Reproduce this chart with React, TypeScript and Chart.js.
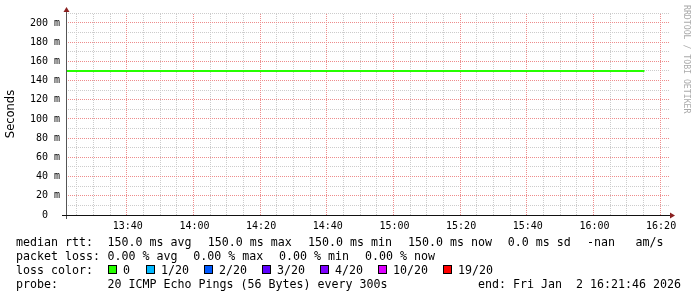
import React, { useEffect, useRef } from "react";
import { Chart, registerables } from "chart.js";

Chart.register(...registerables);

// ---- data ----
const rangeStart = "13:21:46";
const rangeEnd = "16:21:46";
const sampleTimes = [
  "13:20", "13:25", "13:30", "13:35", "13:40", "13:45", "13:50", "13:55",
  "14:00", "14:05", "14:10", "14:15", "14:20", "14:25", "14:30", "14:35",
  "14:40", "14:45", "14:50", "14:55", "15:00", "15:05", "15:10", "15:15",
  "15:20", "15:25", "15:30", "15:35", "15:40", "15:45", "15:50", "15:55",
  "16:00", "16:05", "16:10", "16:15",
];
const medianRttMs = [
  150, 150, 150, 150, 150, 150, 150, 150,
  150, 150, 150, 150, 150, 150, 150, 150,
  150, 150, 150, 150, 150, 150, 150, 150,
  150, 150, 150, 150, 150, 150, 150, 150,
  150, 150, 150, 150,
];
const xTickLabels = ["13:40", "14:00", "14:20", "14:40", "15:00", "15:20", "15:40", "16:00", "16:20"];
const yTickValues = [0, 20, 40, 60, 80, 100, 120, 140, 160, 180, 200];
const yTickLabels = ["0  ", "20 m", "40 m", "60 m", "80 m", "100 m", "120 m", "140 m", "160 m", "180 m", "200 m"];
const yMax = 210.4;
const yTitle = "Seconds";
const watermark = "RRDTOOL / TOBI OETIKER";

const rttLabel = "median rtt:";
const rttItems = ["150.0 ms avg", "150.0 ms max", "150.0 ms min", "150.0 ms now", "0.0 ms sd", "-nan", "am/s"];
const lossLabel = "packet loss:";
const lossItems = ["0.00 % avg", "0.00 % max", "0.00 % min", "0.00 % now"];
const lossColorLabel = "loss color:";
const lossColorNames = ["0", "1/20", "2/20", "3/20", "4/20", "10/20", "19/20"];
const lossColors = ["#26ff00", "#00b8ff", "#0059ff", "#5e00ff", "#7e00ff", "#dd00ff", "#ff0000"];
const probeLabel = "probe:";
const probeText = "20 ICMP Echo Pings (56 Bytes) every 300s";
const endText = "end: Fri Jan  2 16:21:46 2026";

// ---- layout (styles/positions) ----
const rttX = [107.5, 207.7, 307.9, 408, 507.7, 587, 635.5];
const lossX = [107.5, 193.3, 279.1, 365];
const boxX = [108, 146, 204, 262, 320, 378, 443];
const baselines = [245.5, 259.6, 273.8, 288];

const toMin = (s: string) => {
  const [h, m, sec] = s.split(":").map(Number);
  return h * 60 + m + (sec || 0) / 60;
};

const xMin = toMin(rangeStart);
const xMax = toMin(rangeEnd);
const xTickValues = xTickLabels.map(toMin);

const MONO = '"DejaVu Sans Mono", monospace';

const rrdPlugin = {
  id: "rrdDecor",
  beforeDatasetsDraw(chart: any) {
    const { ctx, chartArea: a, scales } = chart;
    const xs = scales.x;
    const ys = scales.y;
    const row = (p: number) => Math.round(p - 0.5);
    const col = (p: number) => Math.floor(p) - 1;
    ctx.save();
    const hLeft = Math.round(a.left) + 1;
    const hRight = Math.round(a.right + 2);
    const vTop = Math.round(ys.getPixelForValue(yMax));
    const vBottom = Math.round(a.bottom);
    const minor = "#cccccc";
    const major = "#ee8c8c";
    const hLine = (r: number, color: string) => {
      ctx.fillStyle = color;
      for (let x = hLeft; x < hRight; x += 2) ctx.fillRect(x, r, 1, 1);
    };
    const vLine = (c: number, color: string) => {
      ctx.fillStyle = color;
      for (let y = vBottom - 1; y >= vTop; y -= 2) ctx.fillRect(c, y, 1, 1);
    };
    for (let v = 10; v < yMax; v += 10) {
      if (v % 20 === 0) continue;
      hLine(row(ys.getPixelForValue(v)), minor);
    }
    const firstMinor = Math.ceil(xMin / 5) * 5;
    for (let t = firstMinor; t <= xMax; t += 5) {
      if (t % 20 === 0) continue;
      vLine(col(xs.getPixelForValue(t)), minor);
    }
    for (const v of yTickValues) {
      if (v === 0) continue;
      hLine(row(ys.getPixelForValue(v)), major);
    }
    for (const t of xTickValues) {
      vLine(col(xs.getPixelForValue(t)), major);
    }
    ctx.restore();
  },
  afterDatasetsDraw(chart: any) {
    const { ctx, chartArea: a } = chart;
    ctx.save();
    ctx.setLineDash([]);
    ctx.lineWidth = 1;
    // y axis
    ctx.strokeStyle = "#555";
    ctx.beginPath();
    ctx.moveTo(a.left - 0.5, a.bottom + 4);
    ctx.lineTo(a.left - 0.5, a.top - 3);
    ctx.stroke();
    // x axis
    ctx.strokeStyle = "#111";
    ctx.beginPath();
    ctx.moveTo(a.left - 5, a.bottom + 0.5);
    ctx.lineTo(a.right + 3, a.bottom + 0.5);
    ctx.stroke();
    // arrows
    ctx.fillStyle = "#8a2020";
    ctx.beginPath();
    ctx.moveTo(a.left - 0.5, a.top - 6);
    ctx.lineTo(a.left - 3.5, a.top - 1);
    ctx.lineTo(a.left + 2.5, a.top - 1);
    ctx.closePath();
    ctx.fill();
    ctx.beginPath();
    ctx.moveTo(a.right + 8, a.bottom + 0.5);
    ctx.lineTo(a.right + 3, a.bottom - 2.5);
    ctx.lineTo(a.right + 3, a.bottom + 3.5);
    ctx.closePath();
    ctx.fill();
    ctx.restore();
  },
  afterDraw(chart: any) {
    const { ctx, chartArea: a } = chart;
    ctx.save();
    // y title
    ctx.fillStyle = "#000";
    ctx.font = '11.5px "DejaVu Sans", sans-serif';
    ctx.textAlign = "center";
    ctx.textBaseline = "middle";
    ctx.translate(11.5, (a.top + a.bottom) / 2);
    ctx.rotate(-Math.PI / 2);
    ctx.fillText(yTitle, 0, 0);
    ctx.restore();

    // watermark
    ctx.save();
    ctx.fillStyle = "#aaaaaa";
    ctx.font = "8.2px " + MONO;
    ctx.textAlign = "left";
    ctx.textBaseline = "middle";
    ctx.translate(686, 5);
    ctx.rotate(Math.PI / 2);
    ctx.fillText(watermark, 0, 0);
    ctx.restore();

    // legend
    ctx.save();
    ctx.fillStyle = "#000";
    ctx.font = "11.63px " + MONO;
    ctx.textAlign = "left";
    ctx.textBaseline = "alphabetic";
    ctx.fillText(rttLabel, 16, baselines[0]);
    rttItems.forEach((s, i) => ctx.fillText(s, rttX[i], baselines[0]));
    ctx.fillText(lossLabel, 16, baselines[1]);
    lossItems.forEach((s, i) => ctx.fillText(s, lossX[i], baselines[1]));
    ctx.fillText(lossColorLabel, 16, baselines[2]);
    lossColorNames.forEach((s, i) => {
      const bx = boxX[i];
      const by = Math.round(baselines[2]) - 9;
      ctx.fillStyle = "#000";
      ctx.fillRect(bx, by, 9, 9);
      ctx.fillStyle = lossColors[i];
      ctx.fillRect(bx + 1, by + 1, 7, 7);
      ctx.fillStyle = "#000";
      ctx.fillText(s, bx + 15, baselines[2]);
    });
    ctx.fillText(probeLabel, 16, baselines[3]);
    ctx.fillText(probeText, 107.5, baselines[3]);
    ctx.fillText(endText, 478, baselines[3]);
    ctx.restore();
  },
};

export default function App() {
  const ref = useRef<HTMLCanvasElement | null>(null);
  useEffect(() => {
    const canvas = ref.current;
    if (!canvas) return;
    const chart = new Chart(canvas, {
      type: "line",
      data: {
        datasets: [
          {
            label: "median rtt",
            data: sampleTimes.map((t, i) => ({ x: toMin(t), y: medianRttMs[i] })),
            borderColor: lossColors[0],
            borderWidth: 2,
            pointRadius: 0,
            fill: false,
            tension: 0,
          },
        ],
      },
      options: {
        responsive: false,
        animation: false,
        devicePixelRatio: 1,
        events: [],
        layout: { padding: { top: 13, right: 30, left: 0, bottom: 0 } },
        plugins: { legend: { display: false }, tooltip: { enabled: false }, title: { display: false } },
        scales: {
          x: {
            type: "linear",
            min: xMin,
            max: xMax,
            grid: { display: false, drawTicks: false },
            border: { display: false },
            afterBuildTicks: (s: any) => {
              s.ticks = xTickValues.map((v) => ({ value: v }));
            },
            afterFit: (s: any) => {
              s.height = 82;
            },
            ticks: {
              autoSkip: false,
              maxRotation: 0,
              minRotation: 0,
              padding: 5,
              color: "#000",
              font: { family: MONO, size: 10 },
              callback: (v: any) => {
                const i = xTickValues.findIndex((t) => Math.abs(t - v) < 1e-6);
                return i >= 0 ? xTickLabels[i] : "";
              },
            },
          },
          y: {
            type: "linear",
            min: 0,
            max: yMax,
            grid: { display: false, drawTicks: false },
            border: { display: false },
            afterBuildTicks: (s: any) => {
              s.ticks = yTickValues.map((v) => ({ value: v }));
            },
            afterFit: (s: any) => {
              s.width = 67;
            },
            ticks: {
              padding: 7,
              color: "#000",
              font: { family: MONO, size: 10 },
              callback: (v: any) => {
                const i = yTickValues.indexOf(v);
                return i >= 0 ? yTickLabels[i] : "";
              },
            },
          },
        },
      },
      plugins: [rrdPlugin],
    });
    return () => chart.destroy();
  }, []);
  return (
    <div style={{ position: "fixed", left: 0, top: 0, width: 697, height: 297, background: "#fff" }}>
      <canvas ref={ref} width={697} height={297} style={{ display: "block", width: 697, height: 297 }} />
    </div>
  );
}
